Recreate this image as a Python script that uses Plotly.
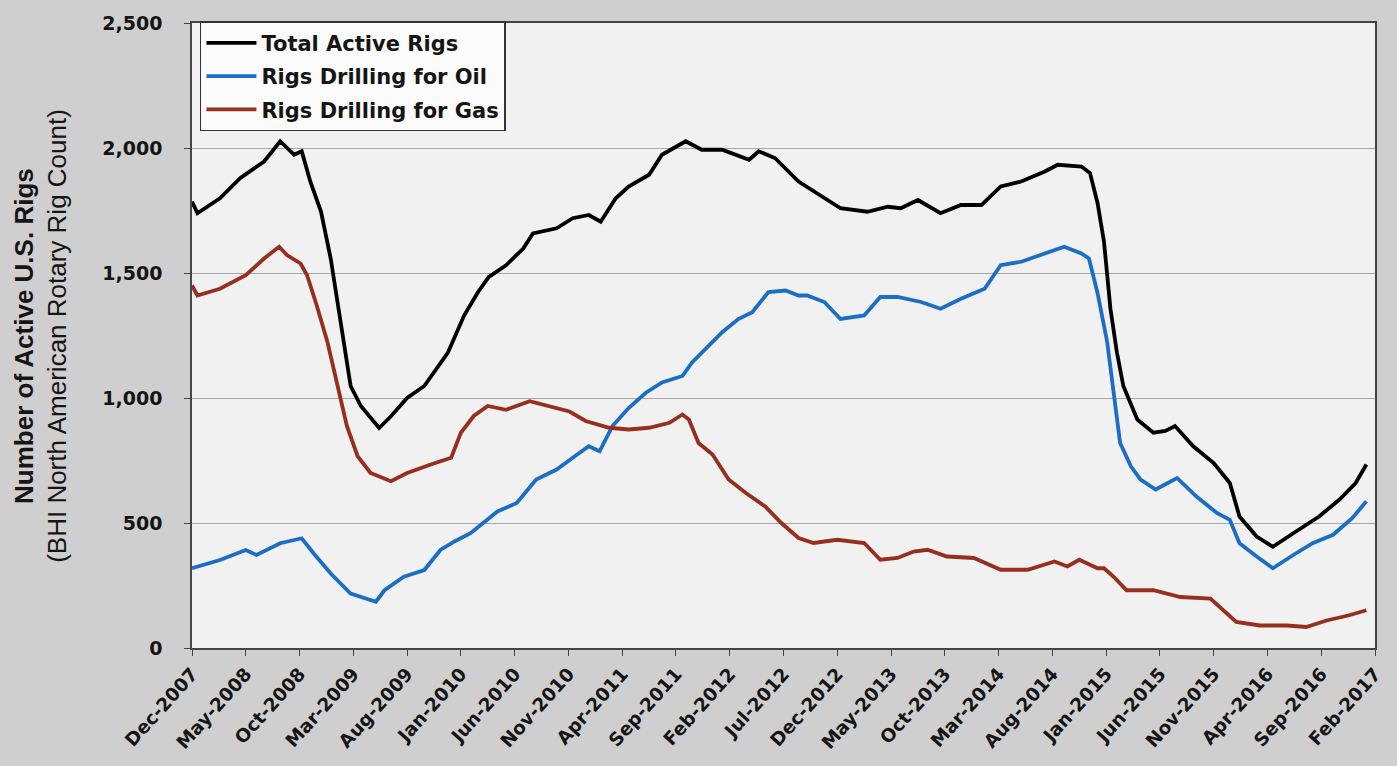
import plotly.graph_objects as go

# x = months since Dec-2007
tick_vals = list(range(0, 111, 5))
tick_text = ["Dec-2007", "May-2008", "Oct-2008", "Mar-2009", "Aug-2009", "Jan-2010",
             "Jun-2010", "Nov-2010", "Apr-2011", "Sep-2011", "Feb-2012", "Jul-2012",
             "Dec-2012", "May-2013", "Oct-2013", "Mar-2014", "Aug-2014", "Jan-2015",
             "Jun-2015", "Nov-2015", "Apr-2016", "Sep-2016", "Feb-2017"]

total_m = [0, 0.5, 2.6, 4.5, 6.7, 8.2, 9.5, 10.2, 11, 12, 12.9, 13.8, 14.75, 15.7, 17.4,
           18.5, 20, 21.6, 23.8, 25.3, 26.6, 27.6, 29.2, 30.8, 31.7, 33.9, 35.4, 36.9, 38,
           39.4, 40.6, 42.5, 43.7, 45.9, 47.4, 49.3, 51.8, 52.7, 54.2, 56.4, 58.4, 60.3,
           62.8, 64.7, 65.9, 67.5, 69.6, 71.5, 73.4, 75.2, 77.1, 79.3, 80.5, 82.7, 83.5,
           84.2, 84.8, 85.4, 86, 86.6, 87.9, 89.4, 90.5, 91.4, 93.1, 95, 96.5, 97.4, 99,
           100.5, 102.4, 104.8, 106.7, 108.2, 109.2]
total_v = [1786, 1739, 1799, 1880, 1946, 2027, 1973, 1987, 1866, 1745, 1557, 1316, 1048, 968, 880,
           927, 1000, 1048, 1182, 1330, 1424, 1484, 1531, 1598, 1658, 1679, 1719, 1732, 1705,
           1799, 1846, 1893, 1973, 2027, 1993, 1993, 1953, 1987, 1960, 1866, 1812, 1759,
           1745, 1765, 1759, 1792, 1739, 1772, 1772, 1846, 1866, 1906, 1933, 1926, 1900,
           1780, 1625, 1357, 1183, 1048, 914, 861, 868, 888, 807, 740, 660, 526, 446,
           405, 459, 526, 594, 660, 734]

oil_m = [0, 2.6, 5, 6, 8.2, 10.2, 11.3, 12.9, 14.75, 17.1, 17.9, 19.7, 21.6, 23.1, 24.4,
         25.9, 28.4, 30.2, 32, 33.9, 35.4, 36.9, 37.9, 39.1, 40.6, 42.2, 43.7, 45.6, 46.5,
         47.7, 49.3, 50.8, 52.1, 53.6, 55.2, 56.4, 57.2, 58.8, 60.3, 62.5, 64, 65.6, 67.8,
         69.6, 71.5, 73.7, 75.2, 77.1, 79.3, 81.1, 82.7, 83.4, 84.2, 85.1, 85.7, 86.3,
         87.3, 88.2, 89.6, 91.6, 93.4, 95.3, 96.5, 97.4, 99, 100.5, 102.4, 104.2, 106.1,
         107.9, 109.2]
oil_v = [319, 352, 392, 372, 419, 439, 379, 298, 218, 185, 231, 285, 312, 392, 426,
         459, 546, 580, 674, 714, 761, 807, 787, 888, 960, 1021, 1062, 1088, 1142,
         1196, 1263, 1316, 1343, 1424, 1430, 1410, 1410, 1384, 1316, 1330, 1404, 1404, 1384,
         1357, 1397, 1437, 1531, 1545, 1578, 1605, 1578, 1558, 1420, 1223, 1021, 820,
         727, 674, 634, 680, 606, 540, 513, 419, 366, 319, 372, 419, 453,
         520, 587]

gas_m = [0, 0.5, 2.6, 5, 6.7, 8.1, 8.85, 10.1, 10.7, 11.6, 12.6, 13.5, 14.4, 15.4, 16.6,
         18.5, 20, 22.2, 24.1, 25, 26.2, 27.5, 29.2, 31.4, 33.2, 35.1, 36.6, 38.8, 40.6,
         42.5, 44.4, 45.6, 46.2, 47.1, 48.4, 49.9, 51.5, 53.3, 54.8, 56.4, 57.8, 60, 62.5,
         64, 65.6, 67.1, 68.4, 70.2, 72.7, 75.2, 77.7, 80.2, 81.4, 82.5, 84.2, 84.8, 85.7,
         86.9, 89.4, 91.9, 94.7, 95.6, 97.1, 99.3, 101.8, 103.6, 105.5, 107.6, 109.2]
gas_v = [1450, 1410, 1437, 1491, 1558, 1605, 1571, 1538, 1491, 1370, 1223, 1048, 888, 767, 700,
         667, 700, 734, 761, 861, 928, 968, 953, 987, 967, 946, 908, 881, 874,
         881, 901, 934, 914, 820, 774, 674, 620, 566, 500, 440, 420, 433, 420,
         353, 360, 386, 393, 366, 360, 313, 313, 346, 326, 353, 319, 319, 285,
         231, 231, 204, 198, 164, 104, 90, 90, 84, 110, 131, 151]

series = [
    ("Total Active Rigs", total_m, total_v, "#000000"),
    ("Rigs Drilling for Oil", oil_m, oil_v, "#1C6EC4"),
    ("Rigs Drilling for Gas", gas_m, gas_v, "#962F1D"),
]

fig = go.Figure()
for i, (name, xs, ys, col) in enumerate(series):
    fig.add_trace(go.Scatter(x=xs, y=ys, mode="lines", name=name, legendgroup=f"g{i}",
                             line=dict(color=col, width=3.8)))

WIDE = "DejaVu Sans, Verdana, sans-serif"
ARIAL = "Liberation Sans, Arial, sans-serif"
TXT = "#151515"
fig.update_layout(
    width=1397, height=766,
    margin=dict(l=192, r=19, t=18, b=118),
    paper_bgcolor="#cfcfcf",
    plot_bgcolor="#f1f1f1",
    font=dict(family=WIDE, color=TXT),
    showlegend=True,
    legend=dict(x=0.0067, y=1.003, xanchor="left", yanchor="top",
                bgcolor="#fbfbfb", bordercolor="#333333", borderwidth=1.5,
                font=dict(size=21, weight="bold", family=WIDE, color=TXT),
                traceorder="grouped", tracegroupgap=3, itemwidth=50),
    xaxis=dict(range=[0, 110], tickvals=tick_vals, ticktext=tick_text, tickangle=-48,
               tickfont=dict(size=18.5, weight="bold", family=WIDE, color=TXT),
               showgrid=False, zeroline=False, showline=True, linecolor="#444444",
               linewidth=1.5, mirror=True, ticks="outside", ticklen=6, tickcolor="#444444"),
    yaxis=dict(range=[0, 2500], tickvals=[0, 500, 1000, 1500, 2000, 2500], tickformat=",",
               tickfont=dict(size=19, weight="bold", family=WIDE, color=TXT),
               ticklabelstandoff=18,
               showgrid=True, gridcolor="#a8a8a8", gridwidth=1, zeroline=False,
               showline=True, linecolor="#444444", linewidth=1.5, mirror=True,
               ticks="outside", ticklen=6, tickcolor="#444444"),
    annotations=[
        dict(text="<b>Number of Active U.S. Rigs</b>",
             xref="paper", yref="paper", x=(23 - 192) / 1186, y=0.5,
             xanchor="center", yanchor="middle", textangle=-90, showarrow=False,
             font=dict(size=26, family=ARIAL, color=TXT)),
        dict(text="(BHI North American Rotary Rig Count)",
             xref="paper", yref="paper", x=(56 - 192) / 1186, y=0.5,
             xanchor="center", yanchor="middle", textangle=-90, showarrow=False,
             font=dict(size=26, family=ARIAL, color=TXT)),
    ],
)

fig.write_html("out.html", config={"displayModeBar": False},
               post_script="document.body.style.margin='0';document.body.style.padding='0';")
